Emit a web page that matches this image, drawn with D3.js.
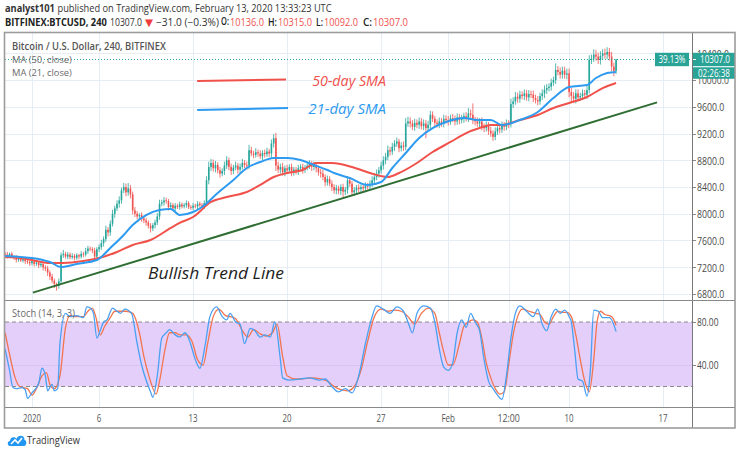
<!DOCTYPE html>
<html><head><meta charset="utf-8">
<script src="https://cdn.jsdelivr.net/npm/d3@7"></script>
<style>body{margin:0;background:#fff}svg{display:block}</style>
</head><body>
<svg id="c" width="740" height="455"></svg>
<script>
// ---------- DATA (4h candles, index 0 = Dec 30 2019 00:00) ----------
const firstOpen = 7400;
const closes = [
7390,7370,7400,7360,7340,7310,7330,7300,7320,7290,
7280,7260,7290,7250,7270,7230,7250,7200,7180,7120,
7060,7000,6950,6920,6990,7380,7400,7360,7390,7350,
7370,7340,7380,7360,7400,7390,7440,7480,7470,7450,
7360,7470,7500,7560,7620,7760,7720,7850,8000,8080,
8150,8200,8350,8400,8320,8380,8290,8050,8000,7960,
7980,7930,7900,7870,7820,7780,7830,7870,7960,8150,
8170,8200,8190,8100,8130,8080,8120,8100,8140,8110,
8130,8160,8100,8090,8120,8110,8150,8130,8110,8160,
8500,8700,8760,8680,8730,8650,8600,8640,8720,8800,
8700,8640,8690,8720,8660,8700,8760,8730,8720,8950,
8900,8880,8920,8900,8860,8910,8890,8930,8900,9050,
9130,8720,8660,8700,8620,8680,8650,8700,8620,8660,
8640,8680,8700,8660,8690,8720,8750,8700,8730,8680,
8620,8600,8550,8470,8520,8450,8400,8350,8380,8340,
8400,8330,8360,8500,8450,8320,8350,8390,8370,8400,
8380,8420,8410,8450,8500,8550,8600,8650,8720,8800,
8850,8950,8930,9000,9050,9080,8980,9020,9000,9350,
9380,9350,9300,9360,9330,9380,9310,9350,9280,9330,
9480,9420,9360,9340,9380,9350,9420,9400,9380,9430,
9420,9380,9440,9400,9420,9460,9430,9500,9480,9400,
9380,9350,9380,9300,9280,9320,9240,9200,9150,9230,
9280,9260,9320,9300,9350,9340,9640,9680,9750,9720,
9780,9760,9800,9740,9790,9780,9730,9700,9680,9760,
9800,9850,9880,9900,9960,10000,10150,10120,10080,10140,
10080,10100,9820,9760,9720,9800,9740,9760,9800,9780,
9850,10300,10320,10380,10350,10300,10360,10400,10380,10420,
10350,10200,10136,10307];
const wickUp = [
30,40,20,30,20,40,30,20,30,20, 30,20,40,20,30,20,30,20,30,40,
30,40,30,20,40,40,60,30,40,30, 40,30,30,20,40,30,50,40,30,30,
40,30,40,50,40,60,40,50,60,40, 50,60,40,60,50,80,50,40,50,40,
30,40,30,40,30,40,30,40,50,60, 40,50,40,30,40,30,40,30,40,30,
30,40,30,30,40,30,40,30,30,40, 60,80,60,50,60,40,50,40,60,60,
40,50,40,60,40,50,60,40,50,80, 50,40,60,40,50,40,50,60,40,60,
60,80,60,50,60,40,50,40,50,40, 40,50,40,50,40,60,50,40,50,40,
40,50,60,40,50,40,50,40,50,40, 40,50,40,60,50,40,50,40,50,40,
40,50,40,50,60,50,60,50,60,60, 60,70,50,60,50,60,40,50,60,80,
70,60,50,60,50,60,50,60,50,60, 60,50,40,50,60,50,60,50,60,50,
60,50,60,50,60,50,60,80,60,170, 50,60,50,60,50,60,50,60,50,60,
60,50,60,50,60,50,80,60,70,60, 60,50,60,50,60,50,60,50,60,50,
60,70,60,50,60,50,100,60,70,60, 60,70,70,60,60,60,60,50,60,50,
60,70,60,80,70,60,70,60,70,70, 60,70,60,8];
const wickDn = [
30,40,30,20,30,40,30,20,30,40, 30,40,30,40,30,40,30,50,40,50,
50,40,60,70,40,40,40,30,40,30, 30,40,30,40,30,40,30,40,30,40,
40,40,40,40,50,40,60,50,40,60, 40,60,50,40,60,50,60,60,50,40,
40,50,40,50,40,60,40,50,40,50, 40,50,40,50,40,30,40,30,40,30,
30,40,30,30,40,30,40,30,30,40, 40,60,60,50,60,50,60,40,60,50,
50,60,50,40,60,50,40,50,60,50, 40,50,40,50,40,60,50,40,50,60,
60,80,50,60,50,60,50,40,60,50, 50,60,50,60,50,40,50,60,50,60,
50,60,50,60,50,40,60,50,60,50, 60,80,50,60,50,60,50,60,50,60,
50,60,50,60,50,60,50,60,50,60, 60,50,60,50,60,50,60,50,60,50,
50,60,50,60,50,60,50,60,150,50, 60,50,60,50,60,50,60,50,60,50,
50,60,50,60,50,60,50,60,50,60, 60,50,60,50,60,50,60,50,60,50,
50,60,50,60,50,60,50,60,50,60, 60,50,60,50,60,50,60,50,60,50,
60,70,60,50,60,50,60,50,60,60, 60,70,80,90,60,70,60,50,60,60,
60,50,60,50,60,60,70,60,60,70, 60,70,80,44];
// moving averages: [candle index, price]
const sma50 = [[0,7353],[7,7338],[12,7308],[20,7264],[26,7264],[35,7293],[42,7338],[50,7428],[57,7533],[65,7607],[74,7787],[78,7862],[84,7951],[92,8176],[99,8250],[108,8325],[114,8430],[120,8550],[126,8609],[133,8654],[139,8759],[146,8759],[155,8699],[163,8609],[171,8550],[176,8609],[184,8759],[191,8923],[199,9073],[206,9207],[212,9282],[217,9327],[222,9327],[230,9402],[238,9477],[245,9581],[252,9656],[260,9746],[267,9880],[273,9955]];
const sma21 = [[0,7368],[7,7353],[12,7338],[20,7278],[25,7204],[32,7249],[41,7308],[47,7488],[53,7682],[57,7832],[63,7981],[69,8056],[74,8071],[78,7981],[84,8026],[88,8101],[95,8310],[102,8505],[108,8684],[114,8774],[120,8834],[126,8834],[132,8804],[138,8729],[144,8654],[147,8609],[154,8535],[162,8430],[168,8475],[173,8684],[179,8908],[185,9133],[191,9282],[197,9372],[205,9432],[211,9402],[217,9402],[222,9327],[230,9402],[238,9521],[245,9731],[252,9895],[260,9925],[264,10030],[269,10105],[273,10120]];
// stochastic (14,3,3): [candle index, value]
const stochK = [[0,55],[2,35],[3.5,19],[5,18],[7.5,19],[9,17],[10,9],[12,14],[15,23],[16.5,37],[18,30],[19,16],[21,22],[22,16],[23.5,18],[24.5,60],[27,88],[29,85],[32,86],[35,84],[36.5,94],[38,93],[39.5,88],[41,65],[42.5,72],[44,80],[45.5,82],[48,93],[50,90],[51.5,88],[53.5,92],[56.5,88],[59,60],[61,40],[63.5,23],[65,15],[66,10],[68,30],[70,65],[72,70],[73.5,73],[76,68],[78,66],[80.5,70],[82.5,62],[85,45],[87,37],[89.5,60],[91.5,85],[94.5,94],[97,85],[99,82],[100.5,88],[103,80],[105,78],[107,60],[109.5,74],[111.5,72],[114,66],[116,68],[118.5,66],[120.5,80],[123,45],[124,28],[127,26],[132,27],[136,28],[140,26],[143,27],[146,20],[149,15],[152,18],[155,14],[158,30],[161,60],[164,85],[166,95],[169,92],[172,88],[175,94],[178,90],[180,80],[182,70],[184,88],[187,95],[190,93],[192,80],[194,55],[196,38],[198,35],[200,42],[202,70],[204,82],[206,75],[208,88],[210,80],[212,72],[214,45],[216,25],[218,18],[220,12],[222,8],[224,30],[226,65],[228,88],[230,95],[233,90],[236,85],[238,92],[240,78],[242,72],[244,85],[246,92],[248,88],[250,91],[252,85],[253,80],[254.5,54],[256,27],[258,25],[260,11],[261.5,35],[263,91],[265,90],[267,84],[270,84],[271.5,80],[273,71]];
const stochD = [[0,70],[2,50],[4.5,28],[6.5,20],[10,18],[12,12],[14,18],[16.5,30],[18.5,33],[20,22],[22,18],[24.5,30],[27,75],[29,86],[32,85],[35,85],[37,90],[39,93],[40.5,85],[42.5,68],[44.5,76],[47,84],[49,90],[51.5,90],[54,90],[57,88],[60,70],[62,48],[64.5,28],[67.5,13],[69,25],[71.5,55],[73.5,70],[76,70],[78,68],[81,68],[83.5,62],[86,45],[88.5,40],[90.5,60],[93,85],[95.5,92],[98.5,86],[100.5,85],[103,83],[106,72],[108.5,66],[111,73],[114,69],[116.5,67],[119.5,70],[121.5,78],[124,48],[126,30],[130,27],[132,27],[137,28],[141,27],[144,25],[147,20],[150,17],[153,16],[156,20],[159,35],[162,62],[165,85],[168,92],[171,90],[174,91],[177,90],[180,85],[183,78],[186,88],[189,93],[192,88],[194,70],[196,52],[198,40],[200,40],[203,60],[205,76],[207,80],[209,82],[211,80],[213,65],[215,42],[217,28],[219,18],[221,13],[223,15],[225,40],[227,68],[229,85],[231,92],[234,90],[237,88],[239,87],[241,80],[243,78],[245,85],[247,90],[249,89],[251,89],[253,85],[255,68],[257,45],[259,25],[261,15],[263,45],[264.5,80],[266,90],[268,87],[271,85],[273,77]];
const priceTicks = [6800,7200,7600,8000,8400,8800,9200,9600,10000,10400];
const stochTicks = [40,80];
const stochBand = [20,80];
const timeTicks = [[12,"2020"],[42,"6"],[84,"13"],[126,"20"],[168,"27"],[198,"Feb"],[225,"12:00"],[252,"10"],[294,"17"]];
const trendLine = [[12.4,6820],[291.3,9665]];
const legend50 = [[85.8,9985],[125.5,10007]];
const legend21 = [[85.8,9551],[126.4,9581]];
const lastBar = {open:"10136.0", high:"10315.0", low:"10092.0", close:"10307.0", chg:"−31.0 (−0.3%)", pct:"39.13%", timer:"02:26:38", value:10307};

// ---------- LAYOUT ----------
const svg = d3.select("#c");
const F = "'Open Sans', 'DejaVu Sans', sans-serif";
const L = 5, R = 692, mTop = 33, mBot = 300, sTop = 301, sBot = 407;
const x = d3.scaleLinear().domain([0, 294]).range([5.1, 663.1]);
const y = d3.scaleLinear().domain([6710, 10703]).range([mBot, mTop]);
const ys = d3.scaleLinear().domain([0, 100]).range([408, 300.5]);

// text helper: natural glyphs, squeezed horizontally to the width seen in the reference
function txt(g, px, py, s, o = {}) {
  const t = g.append("text").attr("x", 0).attr("y", 0)
    .attr("font-family", o.family || F).attr("font-size", o.size || 11)
    .attr("fill", o.fill || "#4a4a4a").attr("dominant-baseline", "central")
    .attr("text-anchor", "start");
  if (o.weight) t.attr("font-weight", o.weight);
  if (o.italic) t.attr("font-style", "italic");
  t.text(s);
  const nat = t.node().getComputedTextLength() || 1;
  const w = o.w || nat;
  const sx = w / nat;
  const x0 = o.anchor === "middle" ? px - w / 2 : px;
  t.attr("transform", `translate(${x0},${py}) scale(${sx},1)`);
  return t;
}

svg.append("defs").html(
  `<clipPath id="mc"><rect x="${L}" y="${mTop}" width="${R - L}" height="${mBot - mTop}"/></clipPath>
   <clipPath id="sc"><rect x="${L}" y="${sTop}" width="${R - L}" height="${sBot - sTop}"/></clipPath>`);

// grid
const grid = svg.append("g").attr("stroke", "#e6edf4").attr("stroke-width", 1);
timeTicks.forEach(([i]) => {
  const gx = Math.round(x(i)) + 0.5;
  grid.append("line").attr("x1", gx).attr("x2", gx).attr("y1", mTop).attr("y2", sBot);
});
priceTicks.forEach(p => {
  const gy = Math.round(y(p)) + 0.5;
  grid.append("line").attr("x1", L).attr("x2", R).attr("y1", gy).attr("y2", gy);
});

// stoch band
svg.append("rect").attr("x", L).attr("width", R - L)
  .attr("y", ys(stochBand[1])).attr("height", ys(stochBand[0]) - ys(stochBand[1]))
  .attr("fill", "#e4cffb");
stochTicks.forEach(v => {
  const gy = Math.round(ys(v)) + 0.5;
  svg.append("line").attr("x1", L).attr("x2", R).attr("y1", gy).attr("y2", gy)
    .attr("stroke", v === 40 ? "#d8c3f2" : "none");
});
stochBand.forEach(v => {
  svg.append("line").attr("x1", L).attr("x2", R).attr("y1", ys(v)).attr("y2", ys(v))
    .attr("stroke", "#8a8a8a").attr("stroke-width", 1).attr("stroke-dasharray", "4,3");
});

// candles
const main = svg.append("g").attr("clip-path", "url(#mc)");
const cg = main.append("g");
closes.forEach((c, i) => {
  const o = i === 0 ? firstOpen : closes[i - 1];
  const h = Math.max(o, c) + wickUp[i], l = Math.min(o, c) - wickDn[i];
  const col = c >= o ? "#26a69a" : "#ef5350";
  cg.append("line").attr("x1", x(i)).attr("x2", x(i)).attr("y1", y(h)).attr("y2", y(l))
    .attr("stroke", col).attr("stroke-width", 0.8);
  const top = y(Math.max(o, c)), bot = y(Math.min(o, c));
  cg.append("rect").attr("x", x(i) - 0.8).attr("width", 1.6)
    .attr("y", top).attr("height", Math.max(0.8, bot - top)).attr("fill", col);
});

const line = d3.line().x(d => x(d[0])).y(d => y(d[1])).curve(d3.curveMonotoneX);
main.append("path").datum(sma50).attr("d", line).attr("fill", "none")
  .attr("stroke", "#f0514b").attr("stroke-width", 2);
main.append("path").datum(sma21).attr("d", line).attr("fill", "none")
  .attr("stroke", "#2e9bf0").attr("stroke-width", 2);
main.append("path").datum(trendLine).attr("d", d3.line().x(d => x(d[0])).y(d => y(d[1])))
  .attr("fill", "none").attr("stroke", "#2f6e32").attr("stroke-width", 2);

// annotations
const lin = d3.line().x(d => x(d[0])).y(d => y(d[1]));
main.append("path").datum(legend50).attr("d", lin).attr("stroke", "#f0514b").attr("stroke-width", 2).attr("fill", "none");
main.append("path").datum(legend21).attr("d", lin).attr("stroke", "#2e9bf0").attr("stroke-width", 2).attr("fill", "none");
txt(svg, x(137.2), y(10000), "50-day SMA", {size: 15, italic: true, fill: "#f0514b", w: 74});
txt(svg, x(135.4), y(9581), "21-day  SMA", {size: 15, italic: true, fill: "#2e9bf0", w: 78});
txt(svg, x(63.9), y(7114), "Bullish Trend Line", {size: 17, italic: true, fill: "#1e1e1e", w: 136});

// last price dotted line
main.append("line").attr("x1", L).attr("x2", R).attr("y1", y(lastBar.value)).attr("y2", y(lastBar.value))
  .attr("stroke", "#26a69a").attr("stroke-width", 1).attr("stroke-dasharray", "1,2");

// stochastic lines
const st = svg.append("g").attr("clip-path", "url(#sc)");
const sline = d3.line().x(d => x(d[0])).y(d => ys(d[1])).curve(d3.curveMonotoneX);
st.append("path").datum(stochD).attr("d", sline).attr("fill", "none").attr("stroke", "#f2744f").attr("stroke-width", 1.3);
st.append("path").datum(stochK).attr("d", sline).attr("fill", "none").attr("stroke", "#4aa0f2").attr("stroke-width", 1.3);

// pane labels
txt(svg, 12, 46, "Bitcoin / U.S. Dollar, 240, BITFINEX", {size: 10, weight: 600, fill: "#555", w: 154});
txt(svg, 12, 59.5, "MA (50, close)", {size: 9.5, fill: "#6a6a6a", w: 60});
txt(svg, 12, 72.5, "MA (21, close)", {size: 9.5, fill: "#6a6a6a", w: 60});
txt(svg, 12, 313, "Stoch (14, 3, 3)", {size: 10.5, fill: "#6a6a6a", w: 63});

// price axis labels
priceTicks.forEach(p => {
  const s = p.toFixed(1);
  svg.append("line").attr("x1", R).attr("x2", R + 4).attr("y1", Math.round(y(p)) + 0.5).attr("y2", Math.round(y(p)) + 0.5).attr("stroke", "#888");
  txt(svg, 697, y(p), s, {size: 11, fill: "#4a4a4a", w: s.length * 4.55});
});
stochTicks.forEach(v => {
  const s = v.toFixed(2);
  svg.append("line").attr("x1", R).attr("x2", R + 4).attr("y1", Math.round(ys(v)) + 0.5).attr("y2", Math.round(ys(v)) + 0.5).attr("stroke", "#888");
  txt(svg, 697, ys(v), s, {size: 11, fill: "#4a4a4a", w: s.length * 4.3});
});
// time axis labels
timeTicks.forEach(([i, s]) => {
  txt(svg, x(i), 418, s, {size: 10.5, anchor: "middle", fill: "#555", w: s.length * 4.5});
});

// last price boxes
const yl = y(lastBar.value);
svg.append("rect").attr("x", 655).attr("y", yl - 6.7).attr("width", 34).attr("height", 13.4).attr("fill", "#2aa397");
txt(svg, 672, yl, lastBar.pct, {size: 10, anchor: "middle", fill: "#fff", w: 27});
svg.append("rect").attr("x", R + 1).attr("y", yl - 6.7).attr("width", 42).attr("height", 13.4).attr("fill", "#2aa397");
svg.append("line").attr("x1", R + 1).attr("x2", R + 4).attr("y1", yl).attr("y2", yl).attr("stroke", "#fff");
txt(svg, 715, yl, lastBar.close, {size: 10.5, anchor: "middle", fill: "#fff", w: 30});
svg.append("rect").attr("x", R + 1).attr("y", yl + 7.8).attr("width", 42).attr("height", 11.5).attr("fill", "#2aa397");
txt(svg, 714, yl + 13.5, lastBar.timer, {size: 10.5, anchor: "middle", fill: "#fff", w: 32});

// frame & separators
svg.append("line").attr("x1", R + 0.5).attr("x2", R + 0.5).attr("y1", 32).attr("y2", 428).attr("stroke", "#777");
svg.append("line").attr("x1", 4).attr("x2", 735).attr("y1", 300.5).attr("y2", 300.5).attr("stroke", "#888");
svg.append("line").attr("x1", 4).attr("x2", 735).attr("y1", 407.5).attr("y2", 407.5).attr("stroke", "#888");
svg.append("rect").attr("x", 4.5).attr("y", 32.5).attr("width", 730.5).attr("height", 395.5)
  .attr("fill", "none").attr("stroke", "#9c9c9c").attr("stroke-width", 1.6);

// header: each piece is its own text, placed where the reference shows it
const head1 = [
  {s: "analyst101", x0: 5, x1: 55, b: 700, c: "#333"},
  {s: "published on TradingView.com, February 13, 2020 13:33:23 UTC", x0: 57.5, x1: 332, c: "#333"}
];
const head2 = [
  {s: "BITFINEX:BTCUSD, 240", x0: 5, x1: 107, b: 700, c: "#222"},
  {s: lastBar.close, x0: 110, x1: 142, c: "#333"},
  {s: "▼", x0: 145, x1: 153, c: "#ef3b3b"},
  {s: lastBar.chg, x0: 156, x1: 219, c: "#333"},
  {s: "O:", x0: 221, x1: 229, b: 600, c: "#222"},
  {s: lastBar.open, x0: 230, x1: 264, c: "#ef5350"},
  {s: "H:", x0: 268, x1: 277, b: 600, c: "#222"},
  {s: lastBar.high, x0: 278, x1: 312, c: "#ef5350"},
  {s: "L:", x0: 316, x1: 323, b: 600, c: "#222"},
  {s: lastBar.low, x0: 324, x1: 358, c: "#ef5350"},
  {s: "C:", x0: 363, x1: 372, b: 600, c: "#222"},
  {s: lastBar.close, x0: 373, x1: 408, c: "#ef5350"}
];
head1.forEach(d => txt(svg, d.x0, 8, d.s, {size: 10, fill: d.c, weight: d.b, w: d.x1 - d.x0}));
head2.forEach(d => txt(svg, d.x0, 22, d.s, {size: 10, fill: d.c, weight: d.b, w: d.x1 - d.x0}));

// TradingView logo
const lg = svg.append("g").attr("transform", "translate(7,433)");
lg.append("path").attr("d", "M3,13 C0,13 0,8 3,8 C3,4 8,3 9.5,6 C11,1 18,2 17.5,7 C20,7 20,13 17,13 Z").attr("fill", "#2196f3");
lg.append("path").attr("d", "M4,11 L8,7 L11,10 L15,5").attr("fill", "none").attr("stroke", "#fff").attr("stroke-width", 1.6);
txt(svg, 27, 440, "TradingView", {size: 11.5, fill: "#333", w: 53});
</script>
</body></html>
